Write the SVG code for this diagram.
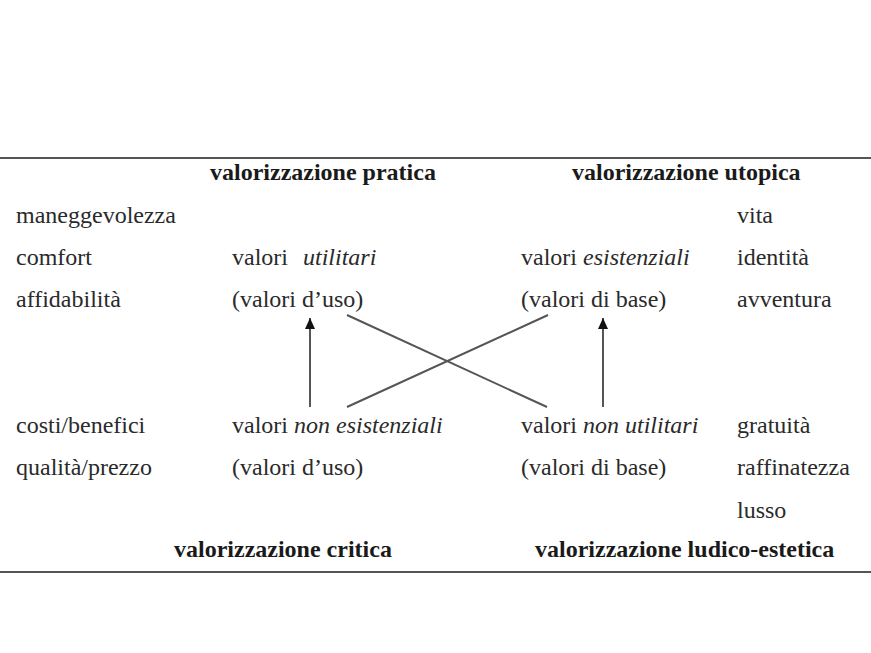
<svg xmlns="http://www.w3.org/2000/svg" width="871" height="653" viewBox="0 0 871 653">
<style>
text{font-family:"Liberation Serif","DejaVu Serif","Times New Roman",serif;font-size:24px;fill:#2a2a2a}
.h{font-weight:bold;fill:#1a1a1a}
.i{font-style:italic}
.rule{stroke:#555;stroke-width:2}
.ln{stroke:#555;stroke-width:2;fill:none}
</style>
<defs>
<marker id="ah" markerWidth="11" markerHeight="10" refX="11" refY="5" orient="auto" markerUnits="userSpaceOnUse" viewBox="0 0 11 10">
<path d="M0,0 L11,5 L0,10 Z" fill="#111"/>
</marker>
</defs>
<rect width="871" height="653" fill="#fff"/>
<line class="rule" x1="0" y1="158" x2="871" y2="158"/>
<line class="rule" x1="0" y1="572" x2="871" y2="572"/>
<g id="headers">
<text class="h" x="210" y="180">valorizzazione pratica</text>
<text class="h" x="572" y="180">valorizzazione utopica</text>
<text class="h" x="174" y="557">valorizzazione critica</text>
<text class="h" x="535" y="557">valorizzazione ludico-estetica</text>
</g>
<g id="left-terms">
<text x="16" y="223">maneggevolezza</text>
<text x="16" y="265">comfort</text>
<text x="16" y="307">affidabilità</text>
<text x="16" y="433">costi/benefici</text>
<text x="16" y="475">qualità/prezzo</text>
</g>
<g id="right-terms">
<text x="737" y="223">vita</text>
<text x="737" y="265">identità</text>
<text x="737" y="307">avventura</text>
<text x="737" y="433">gratuità</text>
<text x="737" y="475">raffinatezza</text>
<text x="737" y="518">lusso</text>
</g>
<g id="node-utilitari">
<text x="232" y="265">valori <tspan class="i" x="303">utilitari</tspan></text>
<text x="232" y="307">(valori d’uso)</text>
</g>
<g id="node-esistenziali">
<text x="521" y="265">valori <tspan class="i">esistenziali</tspan></text>
<text x="521" y="307">(valori di base)</text>
</g>
<g id="node-non-esistenziali">
<text x="232" y="433">valori <tspan class="i">non esistenziali</tspan></text>
<text x="232" y="475">(valori d’uso)</text>
</g>
<g id="node-non-utilitari">
<text x="521" y="433">valori <tspan class="i">non utilitari</tspan></text>
<text x="521" y="475">(valori di base)</text>
</g>
<g id="connectors">
<line class="ln" x1="310" y1="407" x2="310" y2="318" marker-end="url(#ah)"/>
<line class="ln" x1="603" y1="407" x2="603" y2="318" marker-end="url(#ah)"/>
<line class="ln" x1="347" y1="315" x2="547" y2="407"/>
<line class="ln" x1="347" y1="407" x2="548" y2="315"/>
</g>
</svg>
